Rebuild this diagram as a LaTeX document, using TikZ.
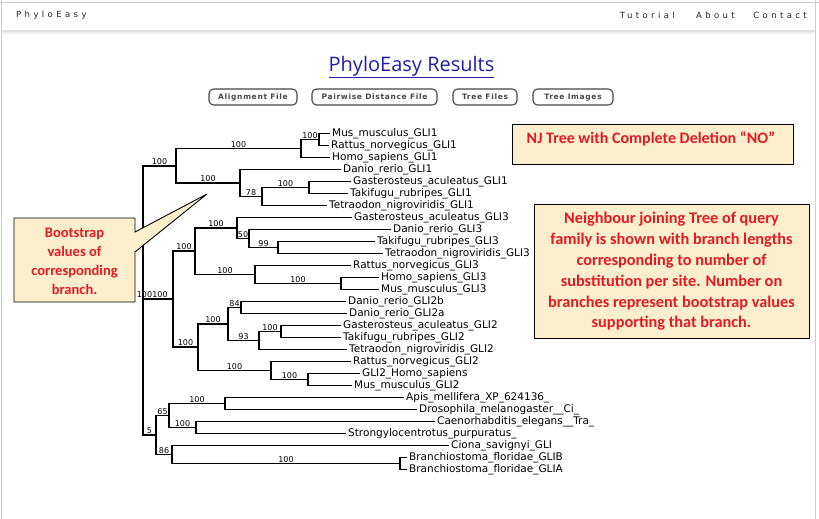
\documentclass[tikz,border=0pt]{standalone}
\usepackage{fontspec}
\setmainfont{DejaVu Sans}
\newfontfamily\leaffont{DejaVu Sans}
\newfontfamily\navfont{DejaVu Sans}[LetterSpace=40]
\newfontfamily\btnfont{DejaVu Sans}[LetterSpace=9]
\newfontfamily\titlefont{Open Sans}
\newfontfamily\notefont{Carlito}
\definecolor{titleblue}{RGB}{35,30,165}
\definecolor{notefill}{RGB}{253,238,206}
\definecolor{notered}{RGB}{226,27,35}
\definecolor{framegray}{RGB}{205,205,205}
\definecolor{btngray}{RGB}{70,70,70}
\tikzset{
  br/.style={line width=1.6pt},
  boot/.style={font=\leaffont\fontsize{8}{8}\selectfont, anchor=base, inner sep=0pt, yshift=1.3pt},
  leaf/.style={font=\leaffont\fontsize{10.5}{11}\selectfont, anchor=west, inner sep=0pt, xshift=2pt},
  btn/.style={draw=btngray, line width=1.1pt, rounded corners=4.5pt, fill=white,
    font=\btnfont\bfseries\fontsize{7.5}{8}\selectfont, text=black!72, minimum height=16pt,
    text height=5.6pt, text depth=1.4pt, inner xsep=0pt},
  navitem/.style={font=\navfont\fontsize{8.5}{9}\selectfont, text=black!85, inner sep=0pt},
  notebox/.style={draw=black, line width=0.9pt, fill=notefill},
  notetext/.style={text=notered, align=center, inner sep=0pt}
}
\newcommand\clade[3]{\draw[br] (#2) -| (#1) |- (#3);}
\newcommand\bs[4]{\path (#2 |- #3) -- (#3) node[boot, midway] (#1) {#4};}
\begin{document}
\begin{tikzpicture}[x=1pt, y=-1pt]
\useasboundingbox (0,0) rectangle (819,519);
\fill[white] (0,0) rectangle (819,519);

% page frame and navigation bar
\draw[framegray, line width=1pt] (1.5,0) -- (1.5,519);
\draw[framegray, line width=1pt] (815.5,0) -- (815.5,519);
\draw[framegray, line width=0.8pt] (0,2) -- (819,2);
\fill[black!12] (2,30) rectangle (815,32.5);
\fill[black!6] (2,32.5) rectangle (815,34);
\node[navitem, anchor=west] (brand) at (16,15.5) {PhyloEasy};
\node[navitem, anchor=east] (contact) at (807,15.5) {Contact};
\node[navitem, anchor=east] (about) at (735,15.5) {About};
\node[navitem, anchor=east] (tutorial) at (675,15.5) {Tutorial};

% title and buttons
\node[font=\titlefont\fontsize{20}{22}\selectfont, text=titleblue, inner sep=0pt] (title) at (411.5,67) {\underline{PhyloEasy Results}};
\node[btn, minimum width=88pt] (align) at (253,97) {Alignment File};
\node[btn, minimum width=125pt] (pair) at (374.5,97) {Pairwise Distance File};
\node[btn, minimum width=64pt] (treef) at (485,97) {Tree Files};
\node[btn, minimum width=80pt] (treei) at (573,97) {Tree Images};

% leaf tips
\coordinate (l1) at (330,133.5);
\coordinate (l2) at (329,145.5);
\coordinate (l3) at (330,157.5);
\coordinate (l4) at (341,169.5);
\coordinate (l5) at (351,181.5);
\coordinate (l6) at (348,193.5);
\coordinate (l7) at (327,205.5);
\coordinate (l8) at (352,217.5);
\coordinate (l9) at (391,229.5);
\coordinate (l10) at (375,241.5);
\coordinate (l11) at (383,253.5);
\coordinate (l12) at (351,265.5);
\coordinate (l13) at (379,277.5);
\coordinate (l14) at (379,289.5);
\coordinate (l15) at (346,301.5);
\coordinate (l16) at (347,313.5);
\coordinate (l17) at (341,325.5);
\coordinate (l18) at (341,337.5);
\coordinate (l19) at (347,349.5);
\coordinate (l20) at (351,361.5);
\coordinate (l21) at (360,373.5);
\coordinate (l22) at (352,385.5);
\coordinate (l23) at (404,397.5);
\coordinate (l24) at (417,409.5);
\coordinate (l25) at (435,421.5);
\coordinate (l26) at (346,433.5);
\coordinate (l27) at (449,445.5);
\coordinate (l28) at (407,457.5);
\coordinate (l29) at (407,469.5);

% internal nodes
\coordinate (na) at (319,139.5);
\coordinate (nb) at (301,148.5);
\coordinate (nc) at (309,187.5);
\coordinate (nd) at (262,196.5);
\coordinate (ne) at (240,183);
\coordinate (nf) at (176,166);
\coordinate (ng) at (278,247.5);
\coordinate (nh) at (249,238.5);
\coordinate (ni) at (237,228);
\coordinate (nj) at (341,283.5);
\coordinate (nk) at (255,274.5);
\coordinate (nm) at (195,251.25);
\coordinate (nn) at (241,307.5);
\coordinate (no) at (281,331.5);
\coordinate (np) at (259,340.5);
\coordinate (nq) at (228,324);
\coordinate (nr) at (308,379.5);
\coordinate (ns) at (271,370.5);
\coordinate (nt) at (198,347.25);
\coordinate (nu) at (173,299);
\coordinate (nv) at (225,403.5);
\coordinate (nw) at (196,427.5);
\coordinate (nx) at (169,415.5);
\coordinate (ny) at (400,463.5);
\coordinate (nz) at (172,454.5);
\coordinate (ninv) at (156,435);
\coordinate (root) at (143,300);

% branches
\clade{na}{l1}{l2}
\clade{nb}{na}{l3}
\clade{nc}{l5}{l6}
\clade{nd}{nc}{l7}
\clade{ne}{l4}{nd}
\clade{nf}{nb}{ne}
\clade{ng}{l10}{l11}
\clade{nh}{l9}{ng}
\clade{ni}{l8}{nh}
\clade{nj}{l13}{l14}
\clade{nk}{l12}{nj}
\clade{nm}{ni}{nk}
\clade{nn}{l15}{l16}
\clade{no}{l17}{l18}
\clade{np}{no}{l19}
\clade{nq}{nn}{np}
\clade{nr}{l21}{l22}
\clade{ns}{l20}{nr}
\clade{nt}{nq}{ns}
\clade{nu}{nm}{nt}
\clade{nv}{l23}{l24}
\clade{nw}{l25}{l26}
\clade{nx}{nv}{nw}
\clade{ny}{l28}{l29}
\clade{nz}{l27}{ny}
\clade{ninv}{nx}{nz}
\clade{root}{nf}{ninv}
\draw[br] (root |- nu) -- (nu);

% bootstrap support
\bs{bsa}{nb}{na}{100}
\bs{bsb}{nf}{nb}{100}
\bs{bsc}{nd}{nc}{100}
\bs{bsd}{ne}{nd}{78}
\bs{bse}{nf}{ne}{100}
\bs{bsf}{root}{nf}{100}
\bs{bsg}{nh}{ng}{99}
\bs{bsh}{ni}{nh}{50}
\bs{bsi}{nm}{ni}{100}
\bs{bsj}{nk}{nj}{100}
\bs{bsk}{nm}{nk}{100}
\bs{bsm}{nu}{nm}{100}
\bs{bsn}{nq}{nn}{84}
\bs{bso}{np}{no}{100}
\bs{bsp}{nq}{np}{93}
\bs{bsq}{nt}{nq}{100}
\bs{bsr}{ns}{nr}{100}
\bs{bss}{nt}{ns}{100}
\bs{bst}{nu}{nt}{100}
\bs{bsv}{nx}{nv}{100}
\bs{bsw}{nx}{nw}{100}
\bs{bsx}{ninv}{nx}{65}
\bs{bsy}{nz}{ny}{100}
\bs{bsz}{ninv}{nz}{86}
\bs{bsinv}{root}{ninv}{5}
\node[boot] (bsroot) at (144.5,299) {100};
\node[boot] (bsu) at (160,299) {100};

% leaf names
\node[leaf] (t1) at (l1) {Mus\_musculus\_GLI1};
\node[leaf] (t2) at (l2) {Rattus\_norvegicus\_GLI1};
\node[leaf] (t3) at (l3) {Homo\_sapiens\_GLI1};
\node[leaf] (t4) at (l4) {Danio\_rerio\_GLI1};
\node[leaf] (t5) at (l5) {Gasterosteus\_aculeatus\_GLI1};
\node[leaf] (t6) at (l6) {Takifugu\_rubripes\_GLI1};
\node[leaf] (t7) at (l7) {Tetraodon\_nigroviridis\_GLI1};
\node[leaf] (t8) at (l8) {Gasterosteus\_aculeatus\_GLI3};
\node[leaf] (t9) at (l9) {Danio\_rerio\_GLI3};
\node[leaf] (t10) at (l10) {Takifugu\_rubripes\_GLI3};
\node[leaf] (t11) at (l11) {Tetraodon\_nigroviridis\_GLI3};
\node[leaf] (t12) at (l12) {Rattus\_norvegicus\_GLI3};
\node[leaf] (t13) at (l13) {Homo\_sapiens\_GLI3};
\node[leaf] (t14) at (l14) {Mus\_musculus\_GLI3};
\node[leaf] (t15) at (l15) {Danio\_rerio\_GLI2b};
\node[leaf] (t16) at (l16) {Danio\_rerio\_GLI2a};
\node[leaf] (t17) at (l17) {Gasterosteus\_aculeatus\_GLI2};
\node[leaf] (t18) at (l18) {Takifugu\_rubripes\_GLI2};
\node[leaf] (t19) at (l19) {Tetraodon\_nigroviridis\_GLI2};
\node[leaf] (t20) at (l20) {Rattus\_norvegicus\_GLI2};
\node[leaf] (t21) at (l21) {GLI2\_Homo\_sapiens};
\node[leaf] (t22) at (l22) {Mus\_musculus\_GLI2};
\node[leaf] (t23) at (l23) {Apis\_mellifera\_XP\_624136\_};
\node[leaf] (t24) at (l24) {Drosophila\_melanogaster\_\_Ci\_};
\node[leaf] (t25) at (l25) {Caenorhabditis\_elegans\_\_Tra\_};
\node[leaf] (t26) at (l26) {Strongylocentrotus\_purpuratus\_};
\node[leaf] (t27) at (l27) {Ciona\_savignyi\_GLI};
\node[leaf] (t28) at (l28) {Branchiostoma\_floridae\_GLIB};
\node[leaf] (t29) at (l29) {Branchiostoma\_floridae\_GLIA};

% explanatory notes
\node[notebox, minimum width=281pt, minimum height=40pt] (njbox) at (652.5,144) {};
\node[notetext, font=\notefont\bfseries\fontsize{16}{20}\selectfont] (njtext) at (651,139) {NJ Tree with Complete Deletion “NO”};
\node[notebox, minimum width=275pt, minimum height=134pt] (nbox) at (671.5,271) {};
\node[notetext, font=\notefont\bfseries\fontsize{16.3}{20.8}\selectfont] (ntext) at (671.5,271.5) {Neighbour joining Tree of query\\family is shown with branch lengths\\corresponding to number of\\substitution per site. Number on\\branches represent bootstrap values\\supporting that branch.};
\coordinate (tip) at (207,194);
\draw[notebox] (14,218) -- (135,218) -- (135,232) -- (tip) -- (135,252) -- (135,302) -- (14,302) -- cycle;
\node[notetext, font=\notefont\bfseries\fontsize{14.5}{19}\selectfont] (btext) at (74.5,261.5) {Bootstrap\\values of\\corresponding\\branch.};
\end{tikzpicture}
\end{document}
